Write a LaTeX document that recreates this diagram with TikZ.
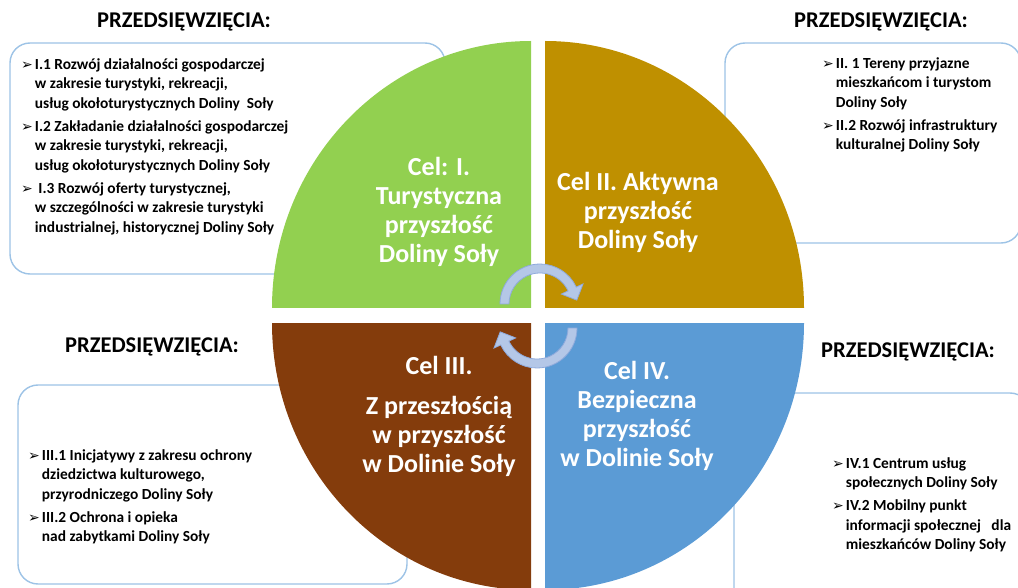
\documentclass[tikz,border=0pt]{standalone}
\usepackage{fontspec}
\setmainfont{Carlito}
\newfontfamily\dejavu{DejaVu Sans}
\usetikzlibrary{positioning}
\definecolor{goalgreen}{HTML}{92D050}
\definecolor{goalgold}{HTML}{BF9000}
\definecolor{goalbrown}{HTML}{843C0C}
\definecolor{goalblue}{HTML}{5B9BD5}
\definecolor{framecol}{HTML}{9DC3E6}
\definecolor{cyclefill}{HTML}{B4C7E7}
\definecolor{cycleline}{HTML}{8FAADC}
\newcommand{\bul}{{\dejavu\fontsize{14}{14}\selectfont ➢}}
\tikzset{
    frame/.style={draw=framecol, line width=1.4pt, rounded corners=20pt, fill=white},
    header/.style={font=\bfseries\fontsize{22.5}{26}\selectfont, inner sep=0pt},
    goal/.style={text=white, font=\bfseries\fontsize{26}{29}\selectfont, align=center, inner sep=0pt},
    actions/.style={font=\bfseries\fontsize{15.4}{19.5}\selectfont, anchor=north west, inner sep=0pt},
    cyclearrow/.style={fill=cyclefill, draw=cycleline, line width=0.8pt}
}

\begin{document}
\begin{tikzpicture}[x=1pt, y=-1pt]
    \useasboundingbox (0,0) rectangle (1018,588);
    \clip (0,0) rectangle (1018,588);
    % frames behind the circle
    \draw[frame] (10,43) rectangle (445,274);
    \draw[frame] (725,43) rectangle (1021,243);
    \draw[frame] (18,385) rectangle (407,584);
    \draw[frame] (734,393) rectangle (1030,610);
    % four goals
    \fill[goalgreen] (531,308) -- ++(-259,0) arc[start angle=180, end angle=270, x radius=259, y radius=267] -- cycle;
    \fill[goalgold] (545,308) -- ++(0,-267) arc[start angle=270, end angle=360, x radius=259, y radius=267] -- cycle;
    \fill[goalbrown] (531,323) -- ++(-259,0) arc[start angle=180, end angle=90, x radius=259, y radius=267] -- cycle;
    \fill[goalblue] (545,323) -- ++(259,0) arc[start angle=0, end angle=90, x radius=259, y radius=267] -- cycle;
    \node[goal] (celI) at (439,212) {Cel: I.\\Turystyczna\\przyszłość\\Doliny Soły};
    \node[goal] (celII) at (638,212) {Cel II. Aktywna\\przyszłość\\Doliny Soły};
    \node[goal] (celIII) at (439,416) {Cel III.\\[11pt]Z przeszłością\\w przyszłość\\w Dolinie Soły};
    \node[goal] (celIV) at (637,416) {Cel IV.\\Bezpieczna\\przyszłość\\w Dolinie Soły};
    % cycle arrows
    \begin{scope}[shift={(540,304)}]
        \filldraw[cyclearrow] (180:40) arc[start angle=180, end angle=335, radius=40] -- (335:47.5) -- (354:37) -- (335:23.5) -- (335:31) arc[start angle=335, end angle=180, radius=31] -- cycle;
    \end{scope}
    \begin{scope}[shift={(537,328)}, rotate=180]
        \filldraw[cyclearrow] (180:40) arc[start angle=180, end angle=335, radius=40] -- (335:47.5) -- (354:37) -- (335:23.5) -- (335:31) arc[start angle=335, end angle=180, radius=31] -- cycle;
    \end{scope}
    % headers
    \node[header] (hI) at (184,22) {PRZEDSIĘWZIĘCIA:};
    \node[header] (hII) at (881,22) {PRZEDSIĘWZIĘCIA:};
    \node[header] (hIII) at (152,347) {PRZEDSIĘWZIĘCIA:};
    \node[header] (hIV) at (908,352) {PRZEDSIĘWZIĘCIA:};
    % action lists
    \node[actions] (listI) at (21,55.5) {\begin{tabular}{@{}l@{\hspace{2pt}}l@{}}
        \bul & I.1 Rozwój działalności gospodarczej\\
             & w zakresie turystyki, rekreacji,\\
             & usług okołoturystycznych Doliny\ \ Soły\\[3.5pt]
        \bul & I.2 Zakładanie działalności gospodarczej\\
             & w zakresie turystyki, rekreacji,\\
             & usług okołoturystycznych Doliny Soły\\[3.5pt]
        \bul & \ I.3 Rozwój oferty turystycznej,\\
             & w szczególności w zakresie turystyki\\
             & industrialnej, historycznej Doliny Soły
    \end{tabular}};
    \node[actions] (listII) at (822,54.5) {\begin{tabular}{@{}l@{\hspace{2pt}}l@{}}
        \bul & II. 1 Tereny przyjazne\\
             & mieszkańcom i turystom\\
             & Doliny Soły\\[3.5pt]
        \bul & II.2 Rozwój infrastruktury\\
             & kulturalnej Doliny Soły
    \end{tabular}};
    \node[actions] (listIII) at (28,446.5) {\begin{tabular}{@{}l@{\hspace{2pt}}l@{}}
        \bul & III.1 Inicjatywy z zakresu ochrony\\
             & dziedzictwa kulturowego,\\
             & przyrodniczego Doliny Soły\\[3.5pt]
        \bul & III.2 Ochrona i opieka\\
             & nad zabytkami Doliny Soły
    \end{tabular}};
    \node[actions] (listIV) at (832,454.5) {\begin{tabular}{@{}l@{\hspace{2pt}}l@{}}
        \bul & IV.1 Centrum usług\\
             & społecznych Doliny Soły\\[3.5pt]
        \bul & IV.2 Mobilny punkt\\
             & informacji społecznej\ \ \ dla\\
             & mieszkańców Doliny Soły
    \end{tabular}};
\end{tikzpicture}
\end{document}
